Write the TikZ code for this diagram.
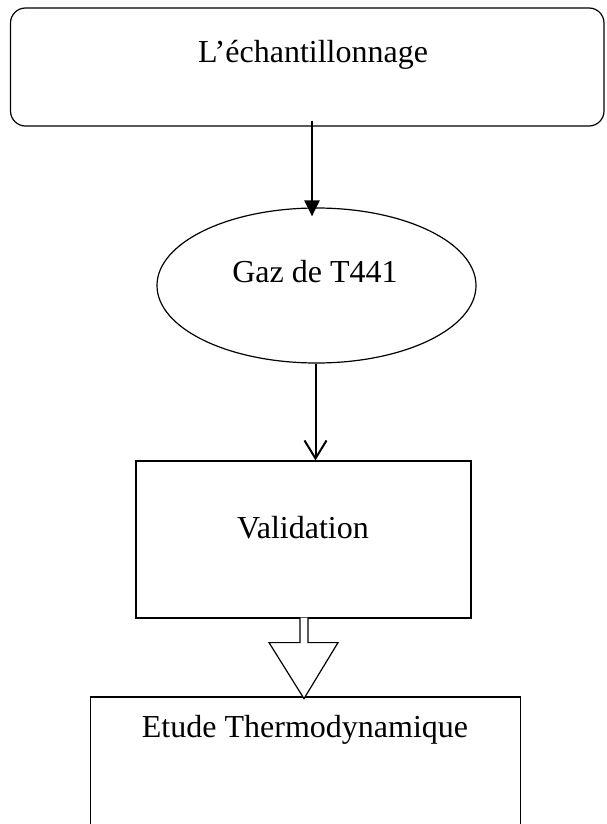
\documentclass[tikz,border=0pt]{standalone}
\usepackage{fontspec}
\setmainfont{Liberation Serif}
\usetikzlibrary{shapes.geometric,arrows.meta}

\tikzset{
  boxline/.style={draw=black, line width=1.2pt, inner sep=0pt, fill=none},
  roundbox/.style={boxline, rectangle, rounded corners=15pt},
  squarebox/.style={boxline, rectangle},
  ovalbox/.style={boxline, ellipse},
  caption/.style={anchor=base, inner sep=0pt, font=\fontsize{32}{38}\selectfont},
  solidarrow/.style={line width=2.6pt, -{Triangle[length=16pt,width=15pt]}},
  openarrow/.style={line width=2pt, -{Straight Barb[length=18pt,width=22pt,line width=2pt]}},
  blockarrow/.style={draw=black, line width=1.2pt, fill=white, line join=miter}
}

\begin{document}
\begin{tikzpicture}[x=1pt,y=-1pt]
  \useasboundingbox (0,0) rectangle (606,824);
  \clip (0,0) rectangle (606,824);
  \fill[white] (0,0) rectangle (606,824);

  % process shapes
  \node[roundbox, minimum width=593.5pt, minimum height=118pt] (sampling) at (307.25,67) {};
  \node[ovalbox, minimum width=319pt, minimum height=155pt] (gas) at (316.5,285.5) {};
  \node[squarebox, minimum width=335pt, minimum height=157pt] (valid) at (303.5,539.5) {};
  \node[squarebox, minimum width=430pt, minimum height=200pt] (thermo) at (305.7,797) {};

  % captions
  \node[caption] (samplingtxt) at (313,63) {L’échantillonnage};
  \node[caption] (gastxt) at (315,282) {Gaz de T441};
  \node[caption] (validtxt) at (303,538) {Validation};
  \node[caption] (thermotxt) at (305,737) {Etude Thermodynamique};

  % connectors
  \draw[solidarrow] ([xshift=4.75pt,yshift=6pt]sampling.south) -- ([xshift=-4.5pt,yshift=-9pt]gas.north);
  \draw[openarrow] ([xshift=-1pt]gas.south) -- ([xshift=12pt]valid.north);

  % hollow block arrow from validation to the study
  \draw[blockarrow] ([xshift=-3.5pt,yshift=1pt]valid.south)
    -- ++(0,25) -- ++(-31,0) -- ++(35,56) -- ++(34,-56) -- ++(-30,0) -- ++(0,-25);
\end{tikzpicture}
\end{document}
